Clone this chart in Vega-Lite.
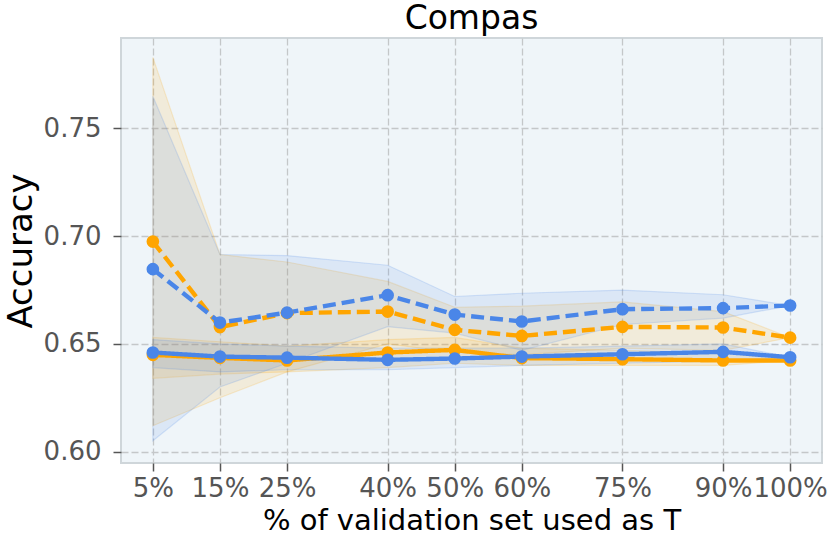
{
  "$schema": "https://vega.github.io/schema/vega-lite/v6.json",
  "autosize": "none",
  "width": 701,
  "height": 425,
  "padding": {"left": 121, "top": 38, "right": 8, "bottom": 80},
  "background": "white",
  "config": {
    "font": "DejaVu Sans",
    "view": {"fill": "#eff5f9", "stroke": "#cfd6da", "strokeWidth": 2},
    "axis": {
      "domain": false,
      "grid": true,
      "gridColor": "#c4c7c9",
      "gridDash": [7, 3],
      "gridWidth": 1.3,
      "tickColor": "#555555",
      "tickWidth": 1.5,
      "tickSize": 8,
      "labelColor": "#555555",
      "labelFont": "DejaVu Sans",
      "labelFontSize": 26,
      "titleFont": "DejaVu Sans",
      "titleColor": "black",
      "titleFontWeight": "normal"
    }
  },
  "title": {"text": "Compas", "fontSize": 33, "fontWeight": "normal", "color": "black", "offset": 2, "font": "DejaVu Sans"},
  "data": {
    "values": [
      {"pct": 5, "series": "orange_dashed", "method": "orange", "style": "dashed", "mean": 0.6975, "lo": 0.612, "hi": 0.783},
      {"pct": 15, "series": "orange_dashed", "method": "orange", "style": "dashed", "mean": 0.6578, "lo": 0.625, "hi": 0.6915},
      {"pct": 25, "series": "orange_dashed", "method": "orange", "style": "dashed", "mean": 0.6643, "lo": 0.637, "hi": 0.688},
      {"pct": 40, "series": "orange_dashed", "method": "orange", "style": "dashed", "mean": 0.665, "lo": 0.650, "hi": 0.679},
      {"pct": 50, "series": "orange_dashed", "method": "orange", "style": "dashed", "mean": 0.6565, "lo": 0.646, "hi": 0.667},
      {"pct": 60, "series": "orange_dashed", "method": "orange", "style": "dashed", "mean": 0.6537, "lo": 0.645, "hi": 0.6675},
      {"pct": 75, "series": "orange_dashed", "method": "orange", "style": "dashed", "mean": 0.6579, "lo": 0.648, "hi": 0.6695},
      {"pct": 90, "series": "orange_dashed", "method": "orange", "style": "dashed", "mean": 0.6576, "lo": 0.647, "hi": 0.665},
      {"pct": 100, "series": "orange_dashed", "method": "orange", "style": "dashed", "mean": 0.6529, "lo": 0.6529, "hi": 0.6529},
      {"pct": 5, "series": "orange_solid", "method": "orange", "style": "solid", "mean": 0.6449, "lo": 0.634, "hi": 0.653},
      {"pct": 15, "series": "orange_solid", "method": "orange", "style": "solid", "mean": 0.6435, "lo": 0.636, "hi": 0.651},
      {"pct": 25, "series": "orange_solid", "method": "orange", "style": "solid", "mean": 0.6423, "lo": 0.637, "hi": 0.649},
      {"pct": 40, "series": "orange_solid", "method": "orange", "style": "solid", "mean": 0.646, "lo": 0.639, "hi": 0.652},
      {"pct": 50, "series": "orange_solid", "method": "orange", "style": "solid", "mean": 0.6472, "lo": 0.641, "hi": 0.653},
      {"pct": 60, "series": "orange_solid", "method": "orange", "style": "solid", "mean": 0.6434, "lo": 0.640, "hi": 0.648},
      {"pct": 75, "series": "orange_solid", "method": "orange", "style": "solid", "mean": 0.6429, "lo": 0.640, "hi": 0.647},
      {"pct": 90, "series": "orange_solid", "method": "orange", "style": "solid", "mean": 0.6423, "lo": 0.640, "hi": 0.646},
      {"pct": 100, "series": "orange_solid", "method": "orange", "style": "solid", "mean": 0.6423, "lo": 0.6423, "hi": 0.6423},
      {"pct": 5, "series": "blue_dashed", "method": "blue", "style": "dashed", "mean": 0.6847, "lo": 0.605, "hi": 0.765},
      {"pct": 15, "series": "blue_dashed", "method": "blue", "style": "dashed", "mean": 0.6599, "lo": 0.630, "hi": 0.6915},
      {"pct": 25, "series": "blue_dashed", "method": "blue", "style": "dashed", "mean": 0.6645, "lo": 0.641, "hi": 0.691},
      {"pct": 40, "series": "blue_dashed", "method": "blue", "style": "dashed", "mean": 0.6726, "lo": 0.658, "hi": 0.6865},
      {"pct": 50, "series": "blue_dashed", "method": "blue", "style": "dashed", "mean": 0.6636, "lo": 0.655, "hi": 0.672},
      {"pct": 60, "series": "blue_dashed", "method": "blue", "style": "dashed", "mean": 0.6604, "lo": 0.647, "hi": 0.6735},
      {"pct": 75, "series": "blue_dashed", "method": "blue", "style": "dashed", "mean": 0.6661, "lo": 0.659, "hi": 0.675},
      {"pct": 90, "series": "blue_dashed", "method": "blue", "style": "dashed", "mean": 0.6666, "lo": 0.662, "hi": 0.6728},
      {"pct": 100, "series": "blue_dashed", "method": "blue", "style": "dashed", "mean": 0.6678, "lo": 0.6678, "hi": 0.6678},
      {"pct": 5, "series": "blue_solid", "method": "blue", "style": "solid", "mean": 0.646, "lo": 0.639, "hi": 0.652},
      {"pct": 15, "series": "blue_solid", "method": "blue", "style": "solid", "mean": 0.6441, "lo": 0.637, "hi": 0.650},
      {"pct": 25, "series": "blue_solid", "method": "blue", "style": "solid", "mean": 0.6436, "lo": 0.638, "hi": 0.649},
      {"pct": 40, "series": "blue_solid", "method": "blue", "style": "solid", "mean": 0.6426, "lo": 0.638, "hi": 0.648},
      {"pct": 50, "series": "blue_solid", "method": "blue", "style": "solid", "mean": 0.6432, "lo": 0.639, "hi": 0.648},
      {"pct": 60, "series": "blue_solid", "method": "blue", "style": "solid", "mean": 0.6441, "lo": 0.640, "hi": 0.648},
      {"pct": 75, "series": "blue_solid", "method": "blue", "style": "solid", "mean": 0.6452, "lo": 0.641, "hi": 0.649},
      {"pct": 90, "series": "blue_solid", "method": "blue", "style": "solid", "mean": 0.6463, "lo": 0.642, "hi": 0.650},
      {"pct": 100, "series": "blue_solid", "method": "blue", "style": "solid", "mean": 0.6438, "lo": 0.6438, "hi": 0.6438}
    ]
  },
  "encoding": {
    "x": {
      "field": "pct",
      "type": "quantitative",
      "title": "% of validation set used as T",
      "scale": {"domain": [0.25, 104.75], "nice": false, "zero": false},
      "axis": {
        "values": [5, 15, 25, 40, 50, 60, 75, 90, 100],
        "labelExpr": "datum.value + '%'",
        "labelPadding": 4,
        "labelFlush": false,
        "labelOverlap": false,
        "titleFontSize": 29,
        "titlePadding": 5
      }
    }
  },
  "layer": [
    {
      "mark": {"type": "area", "fillOpacity": 0.12, "strokeOpacity": 0.18, "strokeWidth": 1.2},
      "encoding": {
        "y": {
          "field": "lo",
          "type": "quantitative",
          "title": "Accuracy",
          "scale": {"domain": [0.5947, 0.792], "nice": false, "zero": false},
          "axis": {
            "values": [0.60, 0.65, 0.70, 0.75],
            "format": ".2f",
            "labelPadding": 12,
            "titleFontSize": 34,
            "titlePadding": 5
          }
        },
        "y2": {"field": "hi"},
        "color": {"field": "method", "type": "nominal", "scale": {"domain": ["blue", "orange"], "range": ["#4a86e8", "#ffa500"]}, "legend": null},
        "stroke": {"field": "method", "type": "nominal", "scale": {"domain": ["blue", "orange"], "range": ["#4a86e8", "#ffa500"]}, "legend": null},
        "detail": {"field": "series"}
      }
    },
    {
      "data": {"values": [{"acc": 0.6565}]},
      "mark": {"type": "rule", "color": "#a8302b", "strokeWidth": 7},
      "encoding": {"y": {"field": "acc", "type": "quantitative"}}
    },
    {
      "mark": {"type": "line", "strokeWidth": 4.4, "point": {"filled": true, "size": 160, "opacity": 1}},
      "encoding": {
        "y": {"field": "mean", "type": "quantitative"},
        "color": {"field": "method", "type": "nominal", "legend": null},
        "strokeDash": {"field": "style", "type": "nominal", "scale": {"domain": ["dashed", "solid"], "range": [[13, 6], [1, 0]]}, "legend": null},
        "detail": {"field": "series"},
        "order": {"field": "pct"}
      }
    }
  ]
}
